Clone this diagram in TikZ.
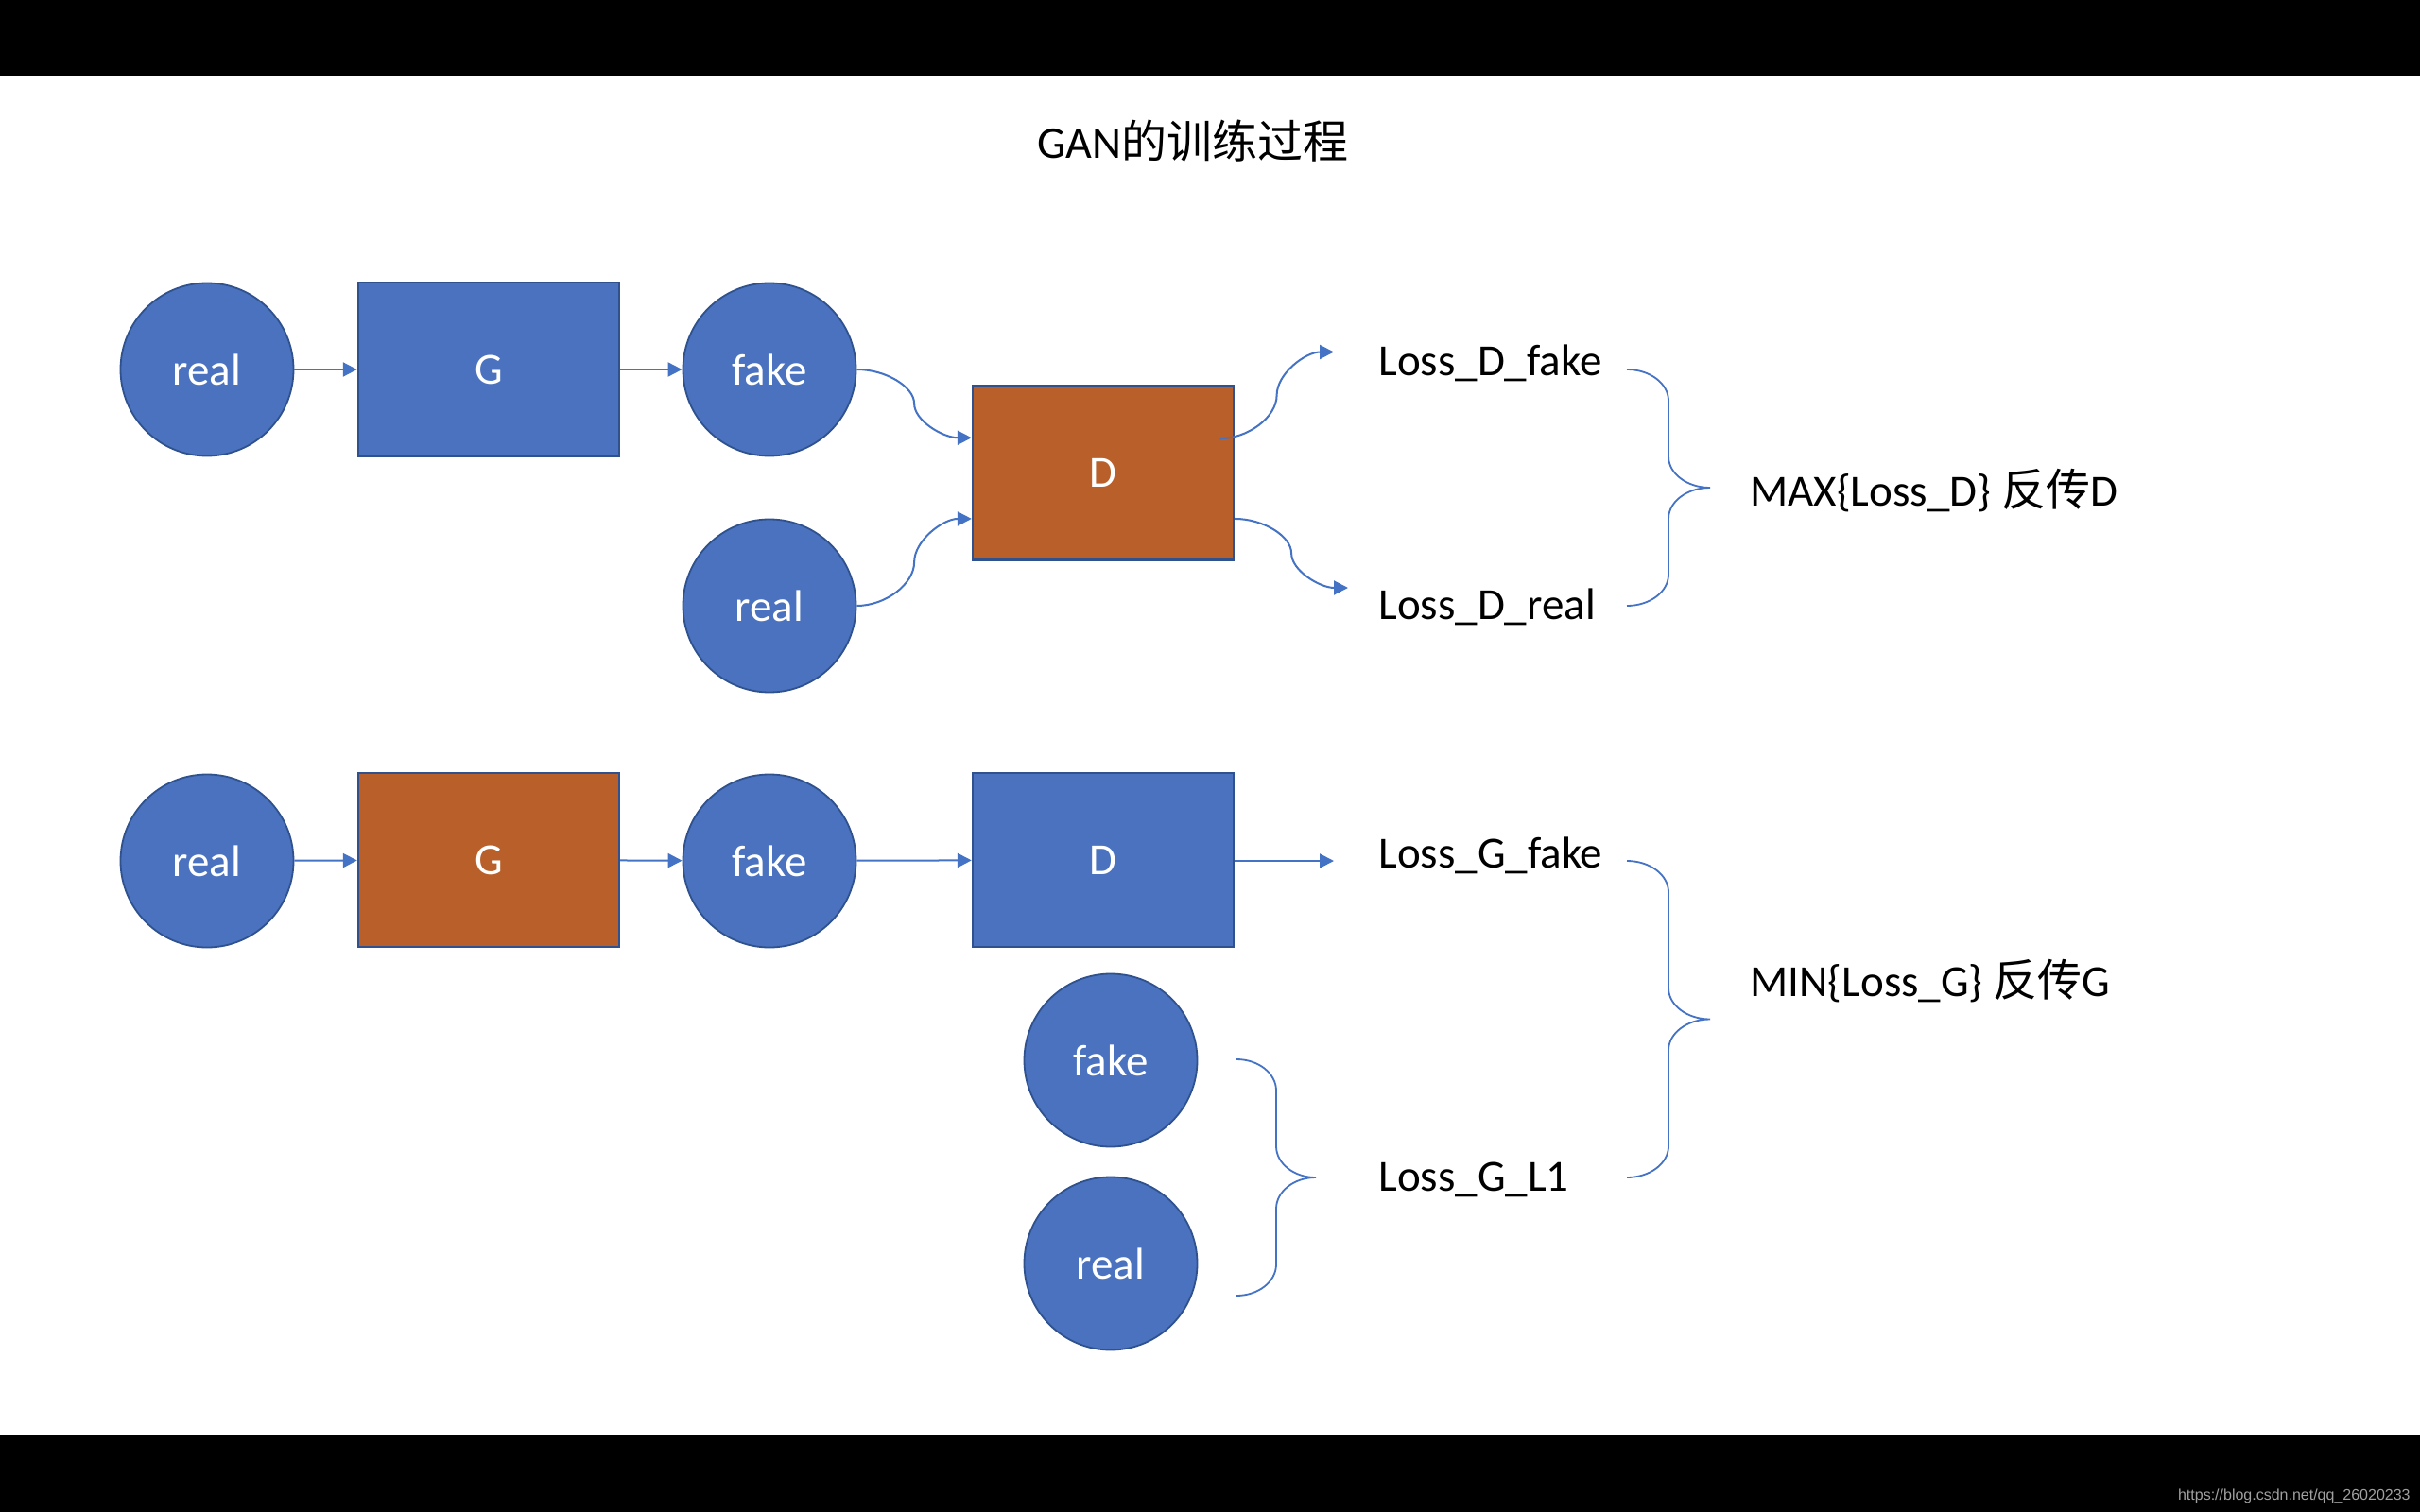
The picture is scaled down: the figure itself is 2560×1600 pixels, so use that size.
\documentclass[tikz,border=0pt]{standalone}
\usepackage{fontspec}
\setmainfont{Carlito}
\newfontfamily\cjk{Noto Sans CJK SC}
\newfontfamily\wmfont{Liberation Sans}
\usetikzlibrary{arrows.meta,calc}
\definecolor{nodeblue}{HTML}{4A72BE}
\definecolor{nodeorange}{HTML}{B85F2A}
\definecolor{edgeblue}{HTML}{2F528F}
\definecolor{lineblue}{HTML}{4472C4}
\definecolor{wmgray}{HTML}{A0A0A0}
\newcommand\myscurve[2]{%
  \draw[conn] let \p1=(#1), \p2=(#2) in (\p1)
    .. controls ({(3*\x1+\x2)/4},\y1) and ({(\x1+\x2)/2},{(3*\y1+\y2)/4})
    .. ({(\x1+\x2)/2},{(\y1+\y2)/2})
    .. controls ({(\x1+\x2)/2},{(\y1+3*\y2)/4}) and ({(\x1+3*\x2)/4},\y2)
    .. (\p2);}
\newcommand\mybrace[5]{% x0, xv, xtip, ytop, ybot
  \pgfmathsetmacro\bka{0.5523*(#2-#1)}%
  \pgfmathsetmacro\bkb{0.5523*(#3-#2)}%
  \pgfmathsetmacro\bym{(#4+#5)/2}%
  \draw[brace] (#1,#4) .. controls ({#1+\bka},#4) and (#2,{#4+14.8}) .. (#2,{#4+33})
    -- (#2,{\bym-33}) .. controls (#2,{\bym-14.8}) and ({#3-\bkb},\bym) .. (#3,\bym)
    .. controls ({#3-\bkb},\bym) and (#2,{\bym+14.8}) .. (#2,{\bym+33})
    -- (#2,{#5-33}) .. controls (#2,{#5-14.8}) and ({#1+\bka},#5) .. (#1,#5);}
\begin{document}
\begin{tikzpicture}[x=0.5pt,y=-0.5pt,
  lbl/.style={font=\fontsize{23.5pt}{28pt}\selectfont},
  circ/.style={circle,draw=edgeblue,line width=0.9pt,fill=nodeblue,minimum size=91.5pt,inner sep=0pt,text=white,lbl},
  boxb/.style={rectangle,draw=edgeblue,line width=1.2pt,fill=nodeblue,minimum width=138pt,minimum height=92pt,inner sep=0pt,text=white,lbl},
  boxo/.style={boxb,fill=nodeorange},
  conn/.style={draw=lineblue,line width=1pt,-{Triangle[length=7.5pt,width=7.5pt]}},
  brace/.style={draw=lineblue,line width=0.9pt},
  txt/.style={lbl,inner sep=0pt,anchor=base west,text=black}]
\useasboundingbox (0,0) rectangle (2560,1600);
\fill[white] (0,0) rectangle (2560,1600);
\fill[black] (0,0) rectangle (2560,80);
\fill[black] (0,1518) rectangle (2560,1600);

\node[font=\fontsize{24pt}{30pt}\selectfont,anchor=base,inner sep=0pt] (title) at (1262,168) {GAN{\cjk 的训练过程}};

% top row
\node[circ] (real1) at (219,391) {real};
\node[boxb] (G1) at (517,391) {G};
\node[circ] (fake1) at (814,391) {fake};
\node[boxo] (D1) at (1167,500.5) {D};
\node[circ] (real2) at (814,641) {real};

\draw[conn] (real1) -- (G1);
\draw[conn] (G1) -- (fake1);

\coordinate (Din1) at ($(D1.north west)!0.30!(D1.south west)$);
\coordinate (Din2) at ($(D1.north west)!0.76!(D1.south west)$);
\coordinate (Dout1) at ($(D1.north east)!0.305!(D1.south east)+(-16,0)$);
\coordinate (Dout2) at ($(D1.north east)!0.76!(D1.south east)$);
\coordinate (LDf) at (1411,372.5);
\coordinate (LDr) at (1426,622);

\myscurve{fake1.east}{Din1}
\myscurve{real2.east}{Din2}
\myscurve{Dout1}{LDf}
\myscurve{Dout2}{LDr}

\node[txt] (LDfake) at (1458,397) {Loss\_D\_fake};
\node[txt] (LDreal) at (1458,655) {Loss\_D\_real};
\node[txt] (MAXD) at (1851,535) {MAX\{Loss\_D\} {\cjk 反传}D};
\mybrace{1721}{1765}{1809}{391}{641}

% bottom row
\node[circ] (real3) at (219,911) {real};
\node[boxo] (G2) at (517,910) {G};
\node[circ] (fake2) at (814,911) {fake};
\node[boxb] (D2) at (1167,910) {D};
\node[circ] (fake3) at (1175,1122) {fake};
\node[circ] (real4) at (1175,1337) {real};
\coordinate (LGf) at (1411,911);

\draw[conn] (real3) -- (G2);
\draw[conn] (G2) -- (fake2);
\draw[conn] (fake2) -- (D2);
\draw[conn] (D2.east |- LGf) -- (LGf);

\node[txt] (LGfake) at (1458,918) {Loss\_G\_fake};
\node[txt] (LGL1) at (1458,1260) {Loss\_G\_L1};
\node[txt] (MING) at (1851,1054) {MIN\{Loss\_G\} {\cjk 反传}G};
\mybrace{1721}{1765}{1809}{911}{1246}
\mybrace{1308}{1350}{1392}{1121}{1371}

\node[font=\wmfont\fontsize{8pt}{10pt}\selectfont,text=wmgray,anchor=base east,inner sep=0pt] (wm) at (2550,1587) {https://blog.csdn.net/qq\_26020233};
\end{tikzpicture}
\end{document}
